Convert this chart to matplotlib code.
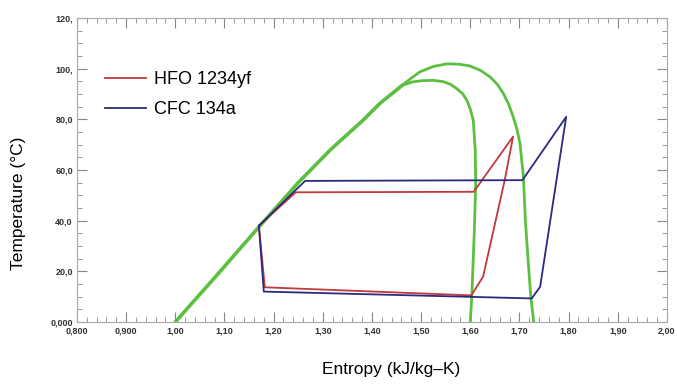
import numpy as np
import matplotlib
matplotlib.use('Agg')
import matplotlib.pyplot as plt
from matplotlib.ticker import MultipleLocator

plt.rcParams['font.family'] = ['Liberation Sans', 'DejaVu Sans']

# saturation curves (green), shared liquid side + two vapour domes
sLiq = [1.00, 1.08, 1.17, 1.25, 1.315, 1.382, 1.416, 1.462]
tLiq = [0.0, 17.5, 37.5, 55.0, 67.9, 79.7, 86.3, 93.5]

sDomeSmall = [1.462, 1.483, 1.504, 1.525, 1.545, 1.560, 1.572, 1.584, 1.593, 1.600, 1.606, 1.610, 1.611, 1.608, 1.603, 1.600]
tDomeSmall = [93.5, 94.8, 95.3, 95.4, 94.9, 93.8, 92.2, 90.2, 87.6, 84.0, 79.7, 67.9, 54.8, 35.0, 10.0, 0.0]

sDomeBig = [1.462, 1.480, 1.498, 1.525, 1.552, 1.576, 1.599, 1.620, 1.640, 1.655, 1.667, 1.678, 1.687, 1.695, 1.701, 1.708, 1.712, 1.718, 1.723, 1.729]
tDomeBig = [93.5, 96.3, 98.8, 100.9, 101.9, 101.8, 101.1, 99.4, 96.8, 93.8, 90.3, 86.0, 81.1, 76.0, 70.5, 57.4, 40.0, 23.2, 10.0, 0.0]

# HFO 1234yf cycle
sHFO = [1.17, 1.182, 1.602, 1.626, 1.670, 1.687, 1.607, 1.245, 1.17]
tHFO = [38.0, 13.7, 10.5, 17.9, 56.0, 73.2, 51.4, 51.2, 38.0]

# CFC 134a cycle
sCFC = [1.17, 1.18, 1.725, 1.742, 1.795, 1.706, 1.264, 1.17]
tCFC = [38.0, 12.0, 9.3, 13.9, 81.0, 56.0, 55.7, 38.0]

xTicks = [0.8, 0.9, 1.0, 1.1, 1.2, 1.3, 1.4, 1.5, 1.6, 1.7, 1.8, 1.9, 2.0]
xTickLabels = ['0,800', '0,900', '1,00', '1,10', '1,20', '1,30', '1,40',
               '1,50', '1,60', '1,70', '1,80', '1,90', '2,00']
yTicks = [0, 20, 40, 60, 80, 100, 120]
yTickLabels = ['0,000', '20,0', '40,0', '60,0', '80,0', '100,', '120,']

green = '#5bbf3f'
red = '#c0393b'
blue = '#2c2a7e'

fig = plt.figure(figsize=(6.77, 3.84), dpi=100)
ax = fig.add_axes([0.1137, 0.1615, 0.8715, 0.7915])

ax.plot(sLiq, tLiq, color=green, lw=2.6, solid_capstyle='round')
ax.plot(sDomeSmall, tDomeSmall, color=green, lw=2.0, solid_capstyle='round')
ax.plot(sDomeBig, tDomeBig, color=green, lw=2.0, solid_capstyle='round')

ax.plot(sHFO, tHFO, color=red, lw=1.3, label='HFO 1234yf')
ax.plot(sCFC, tCFC, color=blue, lw=1.3, label='CFC 134a')

ax.set_xlim(0.8, 2.0)
ax.set_ylim(0, 120)
ax.set_xticks(xTicks)
ax.set_xticklabels(xTickLabels)
ax.set_yticks(yTicks)
ax.set_yticklabels(yTickLabels)
ax.xaxis.set_minor_locator(MultipleLocator(0.02))
ax.yaxis.set_minor_locator(MultipleLocator(5))

ax.tick_params(which='both', direction='in', top=True, right=True, color='#888888',
               labelsize=6.5, labelcolor='#333333', pad=3)
ax.tick_params(which='major', length=7, width=0.8)
ax.tick_params(which='minor', length=3.5, width=0.6)
for lab in ax.get_xticklabels() + ax.get_yticklabels():
    lab.set_fontweight('bold')
for sp in ax.spines.values():
    sp.set_color('#aaaaaa')
    sp.set_linewidth(0.8)

ax.legend(loc='upper left', bbox_to_anchor=(0.035, 0.85), frameon=False,
          fontsize=13, handlelength=2.3, handletextpad=0.4, labelspacing=0.75,
          borderaxespad=0)

fig.text(0.027, 0.47, 'Temperature (°C)', rotation=90, ha='center', va='center', fontsize=12.5)
fig.text(0.578, 0.038, 'Entropy (kJ/kg\u2013K)', ha='center', va='center', fontsize=12.5)

fig.savefig('out.png', dpi=100)
